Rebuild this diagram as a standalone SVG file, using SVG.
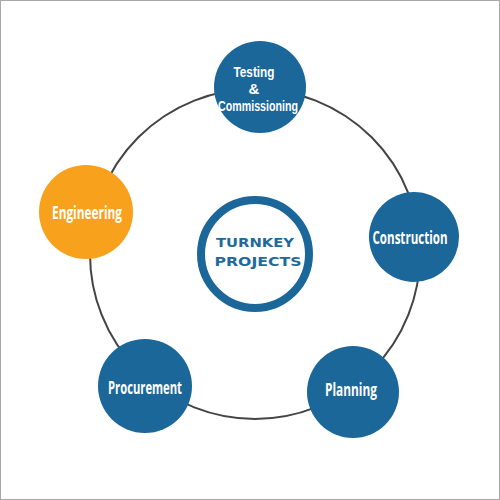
<svg xmlns="http://www.w3.org/2000/svg" width="500" height="500" viewBox="0 0 500 500">
<style>
.node{fill:#1b679a}
.lbl{font-family:"Open Sans","Liberation Sans",sans-serif;font-weight:bold;font-size:18px;fill:#ffffff;text-anchor:middle}
.sm{font-family:"Liberation Sans",sans-serif;font-size:15px}
.tk{font-family:"DejaVu Sans","Liberation Sans",sans-serif;font-weight:bold;font-size:13px;fill:#1e6b9a;text-anchor:middle}
</style>
<rect x="0.5" y="0.5" width="499" height="499" fill="#ffffff" stroke="#a8a8a8" stroke-width="1"/>
<g id="connectors">
<circle cx="255" cy="254" r="165" fill="none" stroke="#444444" stroke-width="2"/>
</g>
<g id="center">
<circle cx="255" cy="254" r="54" fill="#ffffff" stroke="#1b679a" stroke-width="8"/>
<text class="tk" x="255" y="247" textLength="78" lengthAdjust="spacingAndGlyphs">TURNKEY</text>
<text class="tk" x="258" y="266" textLength="87" lengthAdjust="spacingAndGlyphs">PROJECTS</text>
</g>
<g id="testing">
<circle class="node" cx="260" cy="87" r="46"/>
<text class="lbl sm" x="254" y="77" textLength="41" lengthAdjust="spacingAndGlyphs">Testing</text>
<text class="lbl sm" x="254" y="94">&amp;</text>
<text class="lbl sm" x="258" y="111" textLength="80" lengthAdjust="spacingAndGlyphs">Commissioning</text>
</g>
<g id="construction">
<circle class="node" cx="414" cy="237" r="45"/>
<text class="lbl" x="410" y="244" textLength="75" lengthAdjust="spacingAndGlyphs">Construction</text>
</g>
<g id="planning">
<circle class="node" cx="353" cy="392" r="46"/>
<text class="lbl" x="351" y="396" textLength="52" lengthAdjust="spacingAndGlyphs">Planning</text>
</g>
<g id="procurement">
<circle class="node" cx="145" cy="386" r="47"/>
<text class="lbl" x="145" y="394" textLength="74" lengthAdjust="spacingAndGlyphs">Procurement</text>
</g>
<g id="engineering">
<circle cx="86" cy="212" r="47" fill="#f7a11c"/>
<text class="lbl" x="87" y="219" textLength="70" lengthAdjust="spacingAndGlyphs">Engineering</text>
</g>
</svg>
